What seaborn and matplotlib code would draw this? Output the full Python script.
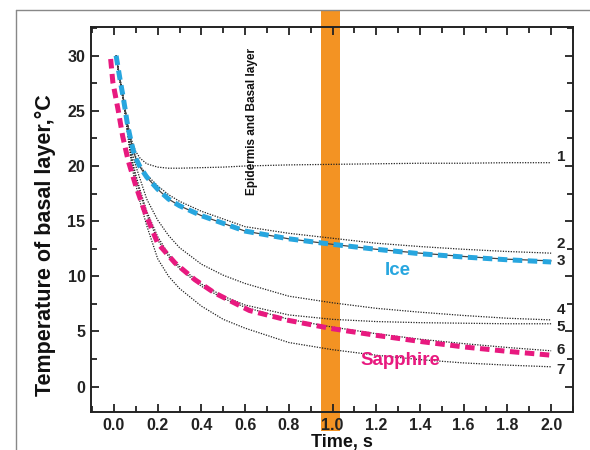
import matplotlib
matplotlib.use("Agg")
import matplotlib.pyplot as plt
from matplotlib.lines import Line2D
from matplotlib.ticker import MultipleLocator, FormatStrFormatter
import seaborn as sns
import numpy as np

# time points (s)
time = [0.01, 0.02, 0.03, 0.04, 0.05, 0.06, 0.07, 0.08, 0.09, 0.1, 0.12, 0.15,
        0.2, 0.25, 0.3, 0.4, 0.5, 0.6, 0.8, 1.0, 1.2, 1.4, 1.6, 1.8, 2.0]

curve_1 = [30.0, 28.8, 27.6, 26.5, 25.3, 24.1, 23.2, 22.4, 21.8, 21.3, 20.7, 20.2,
           19.9, 19.8, 19.8, 19.85, 19.9, 20.0, 20.1, 20.15, 20.2, 20.25, 20.25, 20.3, 20.3]
curve_2 = [30.0, 28.8, 27.6, 26.5, 25.3, 24.0, 23.0, 22.1, 21.4, 20.8, 20.0, 19.2,
           18.2, 17.4, 16.8, 15.9, 15.2, 14.5, 13.9, 13.45, 13.0, 12.7, 12.45, 12.25, 12.1]
curve_3 = [30.0, 28.8, 27.6, 26.5, 25.3, 24.0, 23.0, 22.1, 21.3, 20.7, 19.9, 19.0,
           17.9, 17.0, 16.4, 15.5, 14.8, 14.1, 13.4, 12.9, 12.45, 12.1, 11.8, 11.55, 11.4]
curve_4 = [30.0, 28.8, 27.6, 26.5, 25.2, 23.8, 22.6, 21.5, 20.7, 20.0, 18.8, 17.0,
           15.1, 13.7, 12.6, 11.1, 10.1, 9.35, 8.2, 7.6, 7.1, 6.75, 6.45, 6.2, 6.05]
curve_5 = [30.0, 28.7, 27.5, 26.3, 25.0, 23.5, 22.2, 21.0, 20.0, 19.2, 17.8, 15.9,
           13.6, 12.0, 10.9, 9.3, 8.2, 7.4, 6.5, 6.1, 5.9, 5.8, 5.75, 5.7, 5.7]
curve_6 = [30.0, 28.7, 27.5, 26.3, 25.0, 23.4, 22.0, 20.7, 19.7, 18.9, 17.5, 15.6,
           13.3, 11.8, 10.7, 9.1, 8.0, 7.2, 6.1, 5.4, 4.8, 4.3, 3.9, 3.55, 3.25]
curve_7 = [30.0, 28.7, 27.4, 26.2, 24.9, 23.3, 21.8, 20.3, 19.2, 18.3, 16.7, 14.6,
           11.6, 10.0, 8.9, 7.3, 6.1, 5.3, 4.0, 3.35, 2.85, 2.45, 2.15, 1.95, 1.8]

ice = [30.0, 28.8, 27.6, 26.5, 25.3, 24.0, 23.0, 22.1, 21.3, 20.7, 19.9, 19.0,
       17.9, 17.0, 16.4, 15.5, 14.8, 14.1, 13.4, 12.9, 12.45, 12.05, 11.75, 11.5, 11.3]

sapphire_time = [-0.015, -0.005, 0.02, 0.04, 0.065, 0.1, 0.14, 0.2, 0.28, 0.37, 0.46,
                 0.54, 0.62, 0.8, 1.0, 1.2, 1.4, 1.6, 1.8, 2.0]
sapphire = [29.7, 27.6, 25.0, 22.7, 20.5, 18.2, 15.9, 13.0, 11.2, 9.7, 8.5,
            7.7, 6.9, 6.0, 5.25, 4.65, 4.1, 3.6, 3.2, 2.85]

curve_names = ["1", "2", "3", "4", "5", "6", "7"]
curve_label_y = [20.8, 12.9, 11.35, 6.95, 5.4, 3.3, 1.55]

sns.set_theme(style="ticks")
plt.rcParams["font.family"] = ["Liberation Sans", "DejaVu Sans"]

fig = plt.figure(figsize=(5.9, 4.5), dpi=100)
ax = fig.add_axes([0.1542, 0.0844, 0.817, 0.8556])

# orange time window, runs past the axes
ax.axvspan(0.948, 1.035, ymin=-0.05, ymax=1.044, color="#f39323", lw=0,
           clip_on=False, zorder=0.5)

dotted = dict(color="#222222", lw=0.9, linestyle=(0, (1, 1.1)))
for vals in [curve_1, curve_2, curve_4, curve_5, curve_6, curve_7]:
    sns.lineplot(x=time, y=vals, ax=ax, **dotted)
sns.lineplot(x=time, y=curve_3, ax=ax, color="#444444", lw=0.9)

sns.lineplot(x=time, y=ice, ax=ax, color="#27a6df", lw=3.6,
             linestyle=(0, (1.9, 1.1)))
sns.lineplot(x=sapphire_time, y=sapphire, ax=ax, color="#e8197f", lw=3.6,
             linestyle=(0, (1.9, 1.1)))

for name, yv in zip(curve_names, curve_label_y):
    ax.text(2.025, yv, name, fontsize=11, fontweight="bold", color="#222222",
            ha="left", va="center")

ax.text(1.30, 10.5, "Ice", color="#27a6df", fontsize=13.5, fontweight="bold",
        ha="center", va="center")
ax.text(1.31, 2.4, "Sapphire", color="#e8197f", fontsize=13.5, fontweight="bold",
        ha="center", va="center")
ax.text(0.63, 24.0, "Epidermis and Basal layer", rotation=90, fontsize=8.5,
        fontweight="bold", color="#111111", ha="center", va="center")

ax.set_xlim(-0.105, 2.1)
ax.set_ylim(-2.3, 32.6)
ax.xaxis.set_major_locator(MultipleLocator(0.2))
ax.xaxis.set_minor_locator(MultipleLocator(0.1))
ax.xaxis.set_major_formatter(FormatStrFormatter("%.1f"))
ax.yaxis.set_major_locator(MultipleLocator(5))
ax.yaxis.set_minor_locator(MultipleLocator(2.5))
ax.tick_params(which="both", direction="in", top=True, right=True,
               color="#222222", width=1.3, labelsize=11.5, labelcolor="#222222")
ax.tick_params(which="major", length=6, pad=4)
ax.tick_params(which="minor", length=4)
for lab in ax.get_xticklabels() + ax.get_yticklabels():
    lab.set_fontweight("bold")
for sp in ax.spines.values():
    sp.set_color("#222222")
    sp.set_linewidth(1.4)

ax.set_xlabel("Time, s", fontsize=13, fontweight="bold", color="#111111")
ax.set_ylabel("Temperature of basal layer,\u00b0C", fontsize=15.5, fontweight="bold",
              color="#111111")
ax.xaxis.set_label_coords(0.52, -0.056)
ax.xaxis.label.set_va("top")
ax.yaxis.set_label_coords(-0.095, 0.434)
ax.yaxis.label.set_va("center")

# thin grey frame of the original page
fig.add_artist(Line2D([0.027, 0.027], [0, 0.978], color="#888888", lw=1))
fig.add_artist(Line2D([0.027, 1.0], [0.978, 0.978], color="#888888", lw=1))

fig.savefig("out.png", dpi=100)
